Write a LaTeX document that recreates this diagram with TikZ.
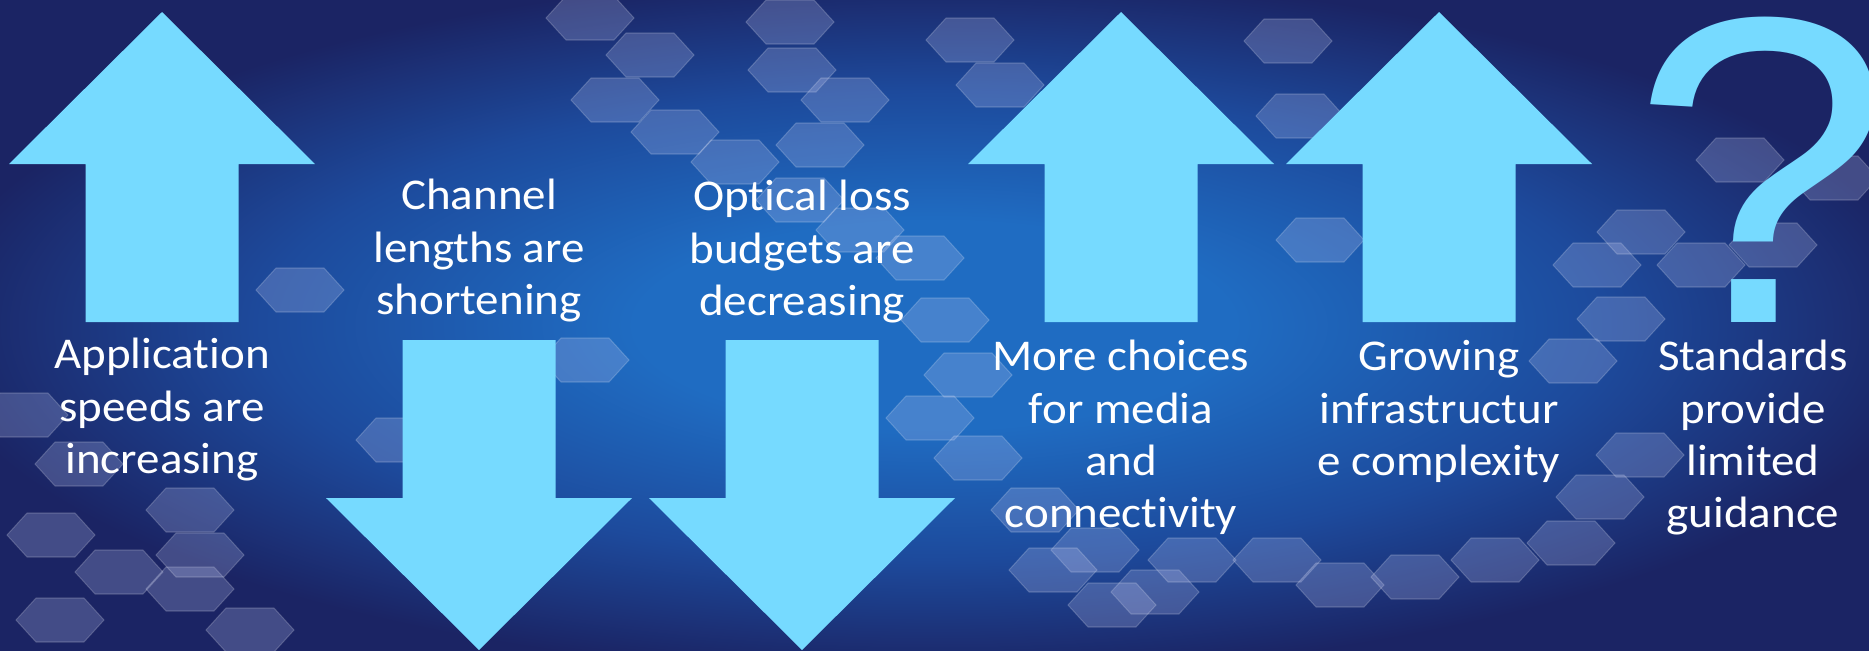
\documentclass[tikz,border=0pt]{standalone}
\usepackage{fontspec}
\setmainfont{Carlito}[FakeStretch=1.07, Ligatures=NoCommon]
\newfontfamily\markfont{Liberation Sans}[FakeStretch=1.07]
\usepackage{xcolor}
\definecolor{deepNavy}{HTML}{1B2464}
\definecolor{midBlue}{HTML}{1D4A9C}
\definecolor{glowBlue}{HTML}{1F6CC2}
\definecolor{arrowCyan}{HTML}{76DAFF}
\definecolor{hexTint}{HTML}{BCC4F0}
\usetikzlibrary{positioning}
\pgfdeclareradialshading{slideGlow}{\pgfpoint{0bp}{0bp}}{%
  color(0bp)=(glowBlue); color(8bp)=(glowBlue); color(18bp)=(midBlue);
  color(27bp)=(deepNavy); color(50bp)=(deepNavy)}
\tikzset{%
  arrowShape/.style={%
    fill=arrowCyan
  },
  hexCell/.style={%
    fill=hexTint,
    fill opacity=0.25,
    draw=white,
    draw opacity=0.18,
    line width=0.6pt
  },
  labelText/.style={%
    text=white,
    align=center,
    inner sep=0pt,
    font=\fontsize{25}{29.6}\selectfont
  },
  pics/bigArrow/.style={code={%
    \fill[arrowShape] (0,0) -- (153,152) -- (76.5,152) -- (76.5,310)
      -- (-76.5,310) -- (-76.5,152) -- (-153,152) -- cycle;
  }}
}

\begin{document}
\begin{tikzpicture}[x=0.02cm, y=-0.02cm]
            \useasboundingbox (0,0) rectangle (1869,650);
            \fill[shading=slideGlow] (0,0) rectangle (1869,650);

            % hexagon backdrop
            \begin{scope}
            \clip (0,0) rectangle (1869,650);
            \foreach \hx/\hy in {590/18,650/55,615/100,675/132,735/162,800/200,860/230,
                920/258,945/320,968/375,930/418,978/458,1035/510,1095/550,1155/592,
                790/22,792/70,845/100,820/145,970/40,1000/85,
                1053/570,1112/605,1192/560,1277/560,1340/585,1415/577,1495/560,
                1571/543,1600/497,1640/455,
                1597/265,1641/232,1701/265,1773/245,1834/178,1621/319,1573/361,
                1320/240,1300/116,1288/41,1740/160,
                24/415,79/464,51/535,119/572,190/510,190/589,60/620,250/630,
                300/290,585/360,400/440,200/555}
              \draw[hexCell] (\hx,\hy) ++(-44,0) -- ++(20,-22) -- ++(48,0)
                -- ++(20,22) -- ++(-20,22) -- ++(-48,0) -- cycle;
            \end{scope}

            \pic (speedArrow) at (162,12) {bigArrow};
            \pic[yscale=-1] (lengthArrow) at (479,650) {bigArrow};
            \pic[yscale=-1] (lossArrow) at (802,650) {bigArrow};
            \pic (mediaArrow) at (1121,12) {bigArrow};
            \pic (complexArrow) at (1439,12) {bigArrow};

            % base = last line
            \node[labelText, anchor=base] (speedText) at (162,473) {Application\\speeds are\\increasing};
            \node[labelText, anchor=base] (lengthText) at (479,314) {Channel\\lengths are\\shortening};
            \node[labelText, anchor=base] (lossText) at (802,315) {Optical loss\\budgets are\\decreasing};
            \node[labelText, anchor=base] (mediaText) at (1121,527) {More choices\\for media\\and\\connectivity};
            \node[labelText, anchor=base] (complexText) at (1439,475) {Growing\\infrastructur\\e complexity};
            \node[labelText, anchor=base] (guideText) at (1753,527) {Standards\\provide\\limited\\guidance};

            \node[text=arrowCyan, inner sep=0pt, anchor=base,
              font=\markfont\fontsize{249}{249}\selectfont] (guideMark) at (1762,322) {?};
        \end{tikzpicture}
\end{document}
